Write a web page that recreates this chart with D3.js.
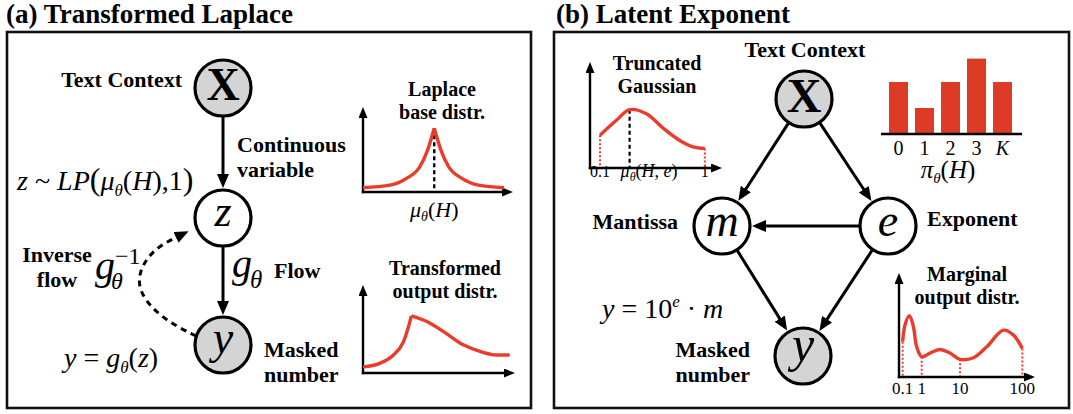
<!DOCTYPE html>
<html>
<head>
<meta charset="utf-8">
<script src="https://cdn.jsdelivr.net/npm/d3@7"></script>
<style>
  body { margin: 0; background: #fff; }
  text { font-family: "Liberation Serif", "Times New Roman", serif; fill: #000; }
</style>
</head>
<body>
<div id="chart"></div>
<script>
// ---- data (normalised 0..1 inside each small plot) ----
var laplaceUp   = [[0, 0.05], [0.18, 0.08], [0.29, 0.16], [0.38, 0.30], [0.43, 0.49], [0.475, 0.75]];
var laplaceDown = [[0.475, 0.75], [0.52, 0.49], [0.57, 0.30], [0.66, 0.16], [0.77, 0.08], [0.94, 0.05]];
var flowUp      = [[0, 0.07], [0.11, 0.11], [0.2, 0.205], [0.265, 0.35], [0.295, 0.5], [0.318, 0.65]];
var flowDown    = [[0.318, 0.65], [0.42, 0.585], [0.53, 0.47], [0.66, 0.32], [0.77, 0.245], [0.88, 0.205], [0.965, 0.205]];
var gaussPts    = [[0.076, 0.31], [0.2, 0.45], [0.3, 0.55], [0.43, 0.51], [0.555, 0.375], [0.68, 0.26], [0.78, 0.2], [0.87, 0.185]];
var expCats     = ["0", "1", "2", "3", "K"];
var expProbs    = [2, 1, 2, 2.9, 2];
var margPts     = [[0.027, 0.34], [0.044, 0.50], [0.076, 0.59], [0.105, 0.49], [0.13, 0.29], [0.167, 0.195],
                   [0.228, 0.23], [0.301, 0.265], [0.375, 0.23], [0.449, 0.17], [0.547, 0.185], [0.645, 0.29],
                   [0.767, 0.45], [0.84, 0.405], [0.907, 0.275]];
var margTicks   = ["0.1", "1", "10", "100"];
var margTickPos = [0.027, 0.167, 0.449, 0.907];

var red = "#ea3b2b";

var svg = d3.select("#chart").append("svg")
    .attr("width", 1073)
    .attr("height", 414)
    .style("background-color", "white");

var defs = svg.append("defs");
function marker(id, len, wid) {
  defs.append("marker")
    .attr("id", id)
    .attr("viewBox", "0 0 " + len + " " + wid)
    .attr("refX", len * 0.4).attr("refY", wid / 2)
    .attr("markerWidth", len).attr("markerHeight", wid)
    .attr("markerUnits", "userSpaceOnUse")
    .attr("orient", "auto")
    .append("path")
    .attr("d", "M0,0L" + len + "," + (wid / 2) + "L0," + wid + "Z")
    .attr("fill", "#000");
}
marker("arr", 14, 12);
marker("arrS", 11, 9);

// text with sub/superscripts: parts = [text, style, shift(px down), size]
function mtext(g, x, y, parts, size, anchor) {
  var t = g.append("text").attr("x", x).attr("y", y)
      .attr("font-size", size).attr("text-anchor", anchor || "start");
  var cur = 0;
  parts.forEach(function(p) {
    var s = t.append("tspan").text(p[0]);
    var sh = p[2] || 0;
    if (sh !== cur) { s.attr("dy", sh - cur); cur = sh; }
    if (p[1] && p[1].indexOf("i") >= 0) s.attr("font-style", "italic");
    if (p[1] && p[1].indexOf("b") >= 0) s.attr("font-weight", "bold");
    if (p[3]) s.attr("font-size", p[3]);
  });
  return t;
}
function bold(g, x, y, lines, size, anchor) {
  lines.forEach(function(l, i) {
    g.append("text").attr("x", x).attr("y", y + i * 25)
      .attr("font-size", size).attr("font-weight", "bold")
      .attr("text-anchor", anchor || "start").text(l);
  });
}

function node(g, c, label, style, size, dy, grey) {
  g.append("circle").attr("cx", c.x).attr("cy", c.y).attr("r", 28)
    .attr("fill", grey ? "#d4d4d4" : "#fff").attr("stroke", "#000").attr("stroke-width", 3.2);
  g.append("text").attr("x", c.x).attr("y", c.y + dy)
    .attr("text-anchor", "middle").attr("font-size", size)
    .attr("font-style", style === "i" ? "italic" : null)
    .attr("font-weight", style === "b" ? "bold" : null)
    .text(label);
}

function edge(g, a, b) {
  var dx = b.x - a.x, dy = b.y - a.y, L = Math.hypot(dx, dy), ux = dx / L, uy = dy / L;
  g.append("line")
    .attr("x1", a.x + ux * 29).attr("y1", a.y + uy * 29)
    .attr("x2", b.x - ux * (30 + 8.4)).attr("y2", b.y - uy * (30 + 8.4))
    .attr("stroke", "#000").attr("stroke-width", 3)
    .attr("marker-end", "url(#arr)");
}

// small plot with arrow axes, returns scales
function miniPlot(g, x0, y0, x1, y1) {
  g.append("line").attr("x1", x0).attr("y1", y0 + 1.2).attr("x2", x0).attr("y2", y1 + 6.6)
    .attr("stroke", "#000").attr("stroke-width", 2.4).attr("marker-end", "url(#arrS)");
  g.append("line").attr("x1", x0 - 1.2).attr("y1", y0).attr("x2", x1 - 6.6).attr("y2", y0)
    .attr("stroke", "#000").attr("stroke-width", 2.4).attr("marker-end", "url(#arrS)");
  return {
    x: d3.scaleLinear().domain([0, 1]).range([x0, x1]),
    y: d3.scaleLinear().domain([0, 1]).range([y0, y1])
  };
}
function curve(g, s, pts, c) {
  var line = d3.line().x(function(d) { return s.x(d[0]); }).y(function(d) { return s.y(d[1]); }).curve(c);
  g.append("path").attr("d", line(pts)).attr("fill", "none")
    .attr("stroke", red).attr("stroke-width", 3.4).attr("stroke-linejoin", "round");
}
function vdrop(g, s, p, color, dash, w) {
  g.append("line").attr("x1", s.x(p[0])).attr("x2", s.x(p[0]))
    .attr("y1", s.y(p[1])).attr("y2", s.y(0) - 1)
    .attr("stroke", color).attr("stroke-width", w).attr("stroke-dasharray", dash);
}

// ================= panel (a) =================
var ga = svg.append("g");
ga.append("rect").attr("x", 7).attr("y", 32).attr("width", 524).attr("height", 376)
  .attr("fill", "none").attr("stroke", "#111").attr("stroke-width", 2.6);
ga.append("text").attr("x", 6).attr("y", 23).attr("font-size", 27).attr("font-weight", "bold")
  .text("(a) Transformed Laplace");

var aX = {x: 223, y: 88}, aZ = {x: 223, y: 218}, aY = {x: 223, y: 345};
edge(ga, aX, aZ);
edge(ga, aZ, aY);

// inverse flow dashed curve
var inv = d3.line().curve(d3.curveBasis);
ga.append("path")
  .attr("d", inv([[aY.x - 27, aY.y - 9], [160, 318], [132, 285], [150, 250], [aZ.x - 42, aZ.y + 17]]))
  .attr("fill", "none").attr("stroke", "#000").attr("stroke-width", 3)
  .attr("stroke-dasharray", "6,5").attr("marker-end", "url(#arr)");

node(ga, aX, "X", "b", 46, 12, true);
node(ga, aZ, "z", "i", 44, 8, false);
node(ga, aY, "y", "i", 46, 8, true);

bold(ga, 182, 87, ["Text Context"], 22, "end");
bold(ga, 237, 152, ["Continuous", "variable"], 22, "start");
mtext(ga, 17, 190, [["z", "i"], [" ~ ", ""], ["LP", "i"], ["(", "", 0, 32], ["μ", "i"], ["θ", "i", 6, 17],
  ["(", "", 0], ["H", "i"], ["),1", ""], [")", "", 0, 32]], 28);

bold(ga, 57, 262, ["Inverse", "flow"], 22, "middle");
ga.append("text").attr("x", 95).attr("y", 279).attr("font-size", 40).attr("font-style", "italic").text("g");
ga.append("text").attr("x", 111).attr("y", 289).attr("font-size", 24).attr("font-style", "italic").text("θ");
ga.append("text").attr("x", 115).attr("y", 264).attr("font-size", 24).text("−1");

ga.append("text").attr("x", 232).attr("y", 277).attr("font-size", 40).attr("font-style", "italic").text("g");
ga.append("text").attr("x", 250).attr("y", 288).attr("font-size", 25).attr("font-style", "italic").text("θ");
bold(ga, 274, 278, ["Flow"], 22, "start");

mtext(ga, 64, 367, [["y", "i"], [" = ", ""], ["g", "i"], ["θ", "i", 6, 17], ["(", "", 0], ["z", "i"], [")", ""]], 28);
bold(ga, 264, 357, ["Masked", "number"], 22, "start");

// Laplace base distribution
bold(ga, 442, 96, ["Laplace"], 20, "middle");
bold(ga, 442, 119, ["base distr."], 20, "middle");
var sL = miniPlot(ga, 363, 192, 513, 107);
vdrop(ga, sL, laplaceUp[laplaceUp.length - 1], "#000", "4,3", 2.4);
curve(ga, sL, laplaceUp, d3.curveMonotoneX);
curve(ga, sL, laplaceDown, d3.curveMonotoneX);
mtext(ga, sL.x(0.475), 217, [["μ", "i"], ["θ", "i", 4, 14], ["(", "", 0], ["H", "i"], [")", ""]], 22, "middle");

// Transformed output distribution
bold(ga, 445, 275, ["Transformed"], 20, "middle");
bold(ga, 445, 298, ["output distr."], 20, "middle");
var sF = miniPlot(ga, 363, 373, 515, 285);
curve(ga, sF, flowUp, d3.curveMonotoneX);
curve(ga, sF, flowDown, d3.curveMonotoneX);

// ================= panel (b) =================
var gb = svg.append("g");
gb.append("rect").attr("x", 554).attr("y", 32).attr("width", 515).attr("height", 376)
  .attr("fill", "none").attr("stroke", "#111").attr("stroke-width", 2.6);
gb.append("text").attr("x", 556).attr("y", 23).attr("font-size", 27).attr("font-weight", "bold")
  .text("(b) Latent Exponent");

var bX = {x: 804, y: 99}, bM = {x: 722, y: 226}, bE = {x: 888, y: 226}, bY = {x: 803, y: 356};
edge(gb, bX, bM);
edge(gb, bX, bE);
edge(gb, bE, bM);
edge(gb, bM, bY);
edge(gb, bE, bY);
node(gb, bX, "X", "b", 48, 13, true);
node(gb, bM, "m", "i", 46, 10, false);
node(gb, bE, "e", "i", 46, 10, false);
node(gb, bY, "y", "i", 50, 5, true);

bold(gb, 805, 57, ["Text Context"], 22, "middle");
bold(gb, 678, 229, ["Mantissa"], 22, "end");
bold(gb, 927, 226, ["Exponent"], 22, "start");
mtext(gb, 602, 318, [["y", "i"], [" = 10", ""], ["e", "i", -11, 17], [" · ", "", 0], ["m", "i"]], 28);
bold(gb, 750, 357, ["Masked", "number"], 22, "end");

// Truncated Gaussian
bold(gb, 657, 70, ["Truncated"], 20, "middle");
bold(gb, 657, 93, ["Gaussian"], 20, "middle");
var sG = miniPlot(gb, 590, 168, 722, 62);
vdrop(gb, sG, gaussPts[0], red, "2,2", 2);
vdrop(gb, sG, gaussPts[gaussPts.length - 1], red, "2,2", 2);
vdrop(gb, sG, gaussPts[2], "#000", "4,3", 2.2);
curve(gb, sG, gaussPts, d3.curveCatmullRom.alpha(0.5));
gb.append("text").attr("x", sG.x(gaussPts[0][0])).attr("y", 177).attr("font-size", 16)
  .attr("text-anchor", "middle").text("0.1");
mtext(gb, sG.x(gaussPts[2][0]) - 9, 177, [["μ", "i"], ["θ", "i", 4, 12], ["(", "", 0], ["H", "i"], [", ", ""], ["e", "i"], [")", ""]], 18);
gb.append("text").attr("x", sG.x(gaussPts[gaussPts.length - 1][0])).attr("y", 177).attr("font-size", 16)
  .attr("text-anchor", "middle").text("1");

// exponent distribution bars
var xb = d3.scaleBand().domain(expCats).range([885.5, 1015.5]).paddingInner(0.27).paddingOuter(0.135);
var yb = d3.scaleLinear().domain([0, 3]).range([134, 56]);
gb.selectAll("rect.bar")
  .data(expProbs)
  .enter()
  .append("rect")
  .attr("class", "bar")
  .attr("x", function(d, i) { return xb(expCats[i]); })
  .attr("y", function(d) { return yb(d); })
  .attr("width", xb.bandwidth())
  .attr("height", function(d) { return yb(0) - yb(d); })
  .attr("fill", "#de3b26");
var bAxis = gb.append("g").attr("transform", "translate(0,134)")
  .call(d3.axisBottom(xb).tickSize(0).tickPadding(7));
bAxis.select(".domain").remove();
bAxis.selectAll("text").attr("font-family", "Liberation Serif, serif").attr("font-size", 20)
  .attr("font-style", function(d) { return d === "K" ? "italic" : null; });
gb.append("line").attr("x1", 881).attr("x2", 1022).attr("y1", 134).attr("y2", 134)
  .attr("stroke", "#000").attr("stroke-width", 2.4);
mtext(gb, 948, 178, [["π", "i"], ["θ", "i", 5, 15], ["(", "", 0], ["H", "i"], [")", ""]], 25, "middle");

// marginal output distribution
bold(gb, 967, 281, ["Marginal"], 20, "middle");
bold(gb, 967, 304, ["output distr."], 20, "middle");
var sM = miniPlot(gb, 899, 377, 1035, 273);
margTickPos.forEach(function(t, i) {
  var p = margPts.find(function(d) { return d[0] === t; });
  vdrop(gb, sM, p, red, "2,2", 2);
  gb.append("text").attr("x", sM.x(t)).attr("y", 394).attr("font-size", 17)
    .attr("text-anchor", "middle").text(margTicks[i]);
});
curve(gb, sM, margPts, d3.curveCatmullRom.alpha(0.5));
</script>
</body>
</html>
